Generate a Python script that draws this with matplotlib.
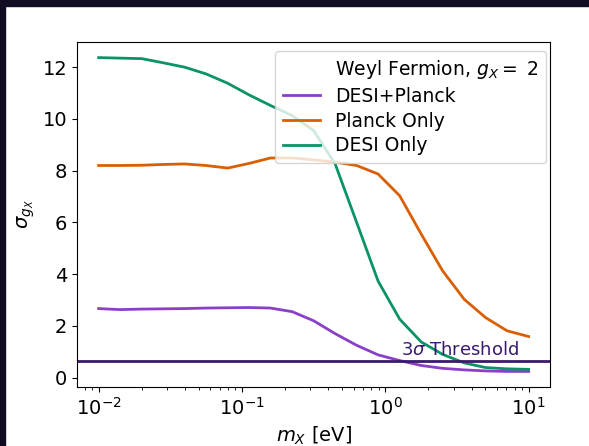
import numpy as np
import matplotlib.pyplot as plt
from matplotlib.patches import Rectangle

# mass grid (eV) and forecast significance of g_X
m_x = [0.01, 0.0141, 0.02, 0.0282, 0.0398, 0.0562, 0.0794, 0.112, 0.158, 0.224,
       0.316, 0.447, 0.631, 0.891, 1.26, 1.78, 2.51, 3.55, 5.01, 7.08, 10.0]
sig_desi_planck = [2.67, 2.63, 2.65, 2.66, 2.67, 2.69, 2.70, 2.71, 2.69, 2.55,
                   2.20, 1.70, 1.25, 0.88, 0.66, 0.47, 0.36, 0.30, 0.26, 0.24, 0.24]
sig_planck = [8.20, 8.20, 8.21, 8.24, 8.26, 8.20, 8.10, 8.28, 8.49, 8.49,
              8.42, 8.33, 8.20, 7.87, 7.03, 5.55, 4.13, 3.03, 2.32, 1.81, 1.59]
sig_desi = [12.37, 12.35, 12.33, 12.17, 12.00, 11.74, 11.38, 10.93, 10.52, 10.13,
            9.55, 8.26, 6.00, 3.73, 2.26, 1.38, 0.90, 0.57, 0.39, 0.34, 0.32]
threshold = 0.65

plt.rcParams['font.size'] = 14

fig = plt.figure(figsize=(5.89, 4.46), dpi=100)
ax = fig.add_axes([0.131, 0.132, 0.803, 0.774])

ax.plot([], [], ' ', label=r'Weyl Fermion, $g_X=$ 2')
ax.plot(m_x, sig_desi_planck, c='#8b3fc9', lw=2, label='DESI+Planck')
ax.plot(m_x, sig_planck, c='#d95f02', lw=2, label='Planck Only')
ax.plot(m_x, sig_desi, c='#0a9366', lw=2, label='DESI Only')
ax.axhline(threshold, c='#3a1a6e', lw=2)
ax.text(1.28, threshold + 0.07, r'3$\sigma$ Threshold', color='#3a1a6e',
        fontsize=13, va='bottom')

ax.set_xscale('log')
ax.set_xlabel(r'$m_X$ [eV]')
ax.set_ylabel(r'$\sigma_{g_X}$')
ax.set_yticks([0, 2, 4, 6, 8, 10, 12])
ax.legend(loc='upper right', bbox_to_anchor=(1.0, 0.985), borderaxespad=0.2,
          fontsize=13.5, labelspacing=0.3)

# dark frame along top and left edges
fig.patches.append(Rectangle((0, 1 - 6 / 446), 1, 6 / 446, transform=fig.transFigure,
                             color='#120b22', zorder=10))
fig.patches.append(Rectangle((0, 0), 5 / 589, 1, transform=fig.transFigure,
                             color='#120b22', zorder=10))

fig.savefig('out.png', dpi=100)
